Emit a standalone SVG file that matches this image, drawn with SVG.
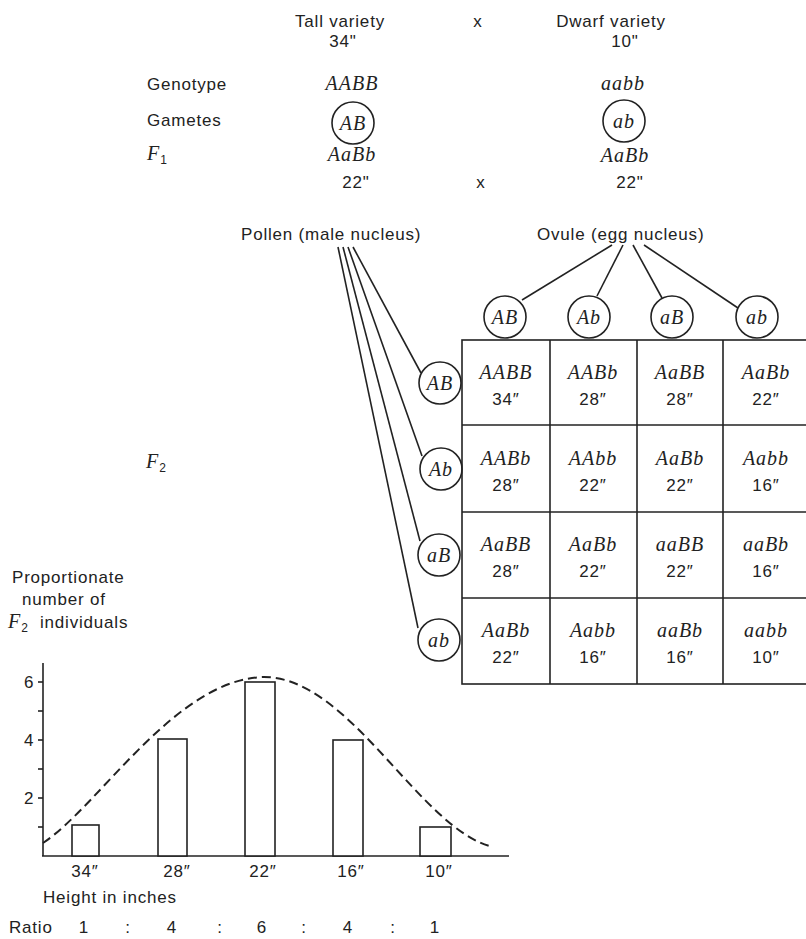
<svg xmlns="http://www.w3.org/2000/svg" width="806" height="939" viewBox="0 0 806 939">
<style>
  .s{font-family:"Liberation Sans",Arial,sans-serif;font-size:17px;letter-spacing:0.8px;fill:#222}
  .m{text-anchor:middle}
  .i{font-family:"Liberation Serif","Times New Roman",serif;font-style:italic;font-size:20px;fill:#222;letter-spacing:1px}
  .sub{font-family:"Liberation Sans",Arial,sans-serif;font-style:normal;font-size:12px;letter-spacing:0}
  .c{fill:#fff;stroke:#222;stroke-width:1.6}
  .ln{stroke:#222;stroke-width:1.6;fill:none}
  .bar{fill:#fff;stroke:#222;stroke-width:1.6}
</style>
<rect width="806" height="939" fill="#fff"/>

<g id="parents">
  <text class="s m" x="340" y="27">Tall variety</text>
  <text class="s m" x="343" y="47">34"</text>
  <text class="s m" x="478" y="27">x</text>
  <text class="s m" x="611" y="27">Dwarf variety</text>
  <text class="s m" x="625" y="47">10"</text>
</g>

<g id="row-labels">
  <text class="s" x="147" y="90">Genotype</text>
  <text class="s" x="147" y="126">Gametes</text>
  <text class="i" x="147" y="160">F<tspan class="sub" dy="4">1</tspan></text>
  <text class="i" x="146" y="468">F<tspan class="sub" dy="4">2</tspan></text>
</g>

<g id="tall-genotype">
  <text class="i m" x="352" y="90">AABB</text>
</g>
<g id="dwarf-genotype">
  <text class="i m" x="623" y="90">aabb</text>
</g>
<g id="gamete-AB">
  <circle class="c" cx="353" cy="123" r="21"/>
  <text class="i m" x="353" y="130">AB</text>
</g>
<g id="gamete-ab">
  <circle class="c" cx="624" cy="121" r="21"/>
  <text class="i m" x="624" y="128">ab</text>
</g>
<g id="f1">
  <text class="i m" x="352" y="161">AaBb</text>
  <text class="i m" x="625" y="162">AaBb</text>
  <text class="s m" x="356" y="188">22"</text>
  <text class="s m" x="481" y="188">x</text>
  <text class="s m" x="630" y="188">22"</text>
</g>

<g id="source-labels">
  <text class="s" x="241" y="240">Pollen (male nucleus)</text>
  <text class="s" x="537" y="240">Ovule (egg nucleus)</text>
</g>

<g id="connectors">
  <line class="ln" x1="612" y1="245" x2="522" y2="300"/>
  <line class="ln" x1="623" y1="245" x2="597" y2="296"/>
  <line class="ln" x1="633" y1="245" x2="662" y2="298"/>
  <line class="ln" x1="644" y1="245" x2="738" y2="308"/>
  <line class="ln" x1="353" y1="247" x2="421" y2="373"/>
  <line class="ln" x1="348" y1="247" x2="422" y2="456"/>
  <line class="ln" x1="343" y1="247" x2="420" y2="541"/>
  <line class="ln" x1="338" y1="247" x2="418" y2="628"/>
</g>

<g id="ovule-gametes">
  <circle class="c" cx="505" cy="317" r="21"/><text class="i m" x="505" y="324">AB</text>
  <circle class="c" cx="589" cy="317" r="21"/><text class="i m" x="589" y="324">Ab</text>
  <circle class="c" cx="672" cy="317" r="21"/><text class="i m" x="672" y="324">aB</text>
  <circle class="c" cx="757" cy="317" r="21"/><text class="i m" x="757" y="324">ab</text>
</g>

<g id="pollen-gametes">
  <circle class="c" cx="440" cy="383" r="21"/><text class="i m" x="440" y="390">AB</text>
  <circle class="c" cx="441" cy="469" r="21"/><text class="i m" x="441" y="476">Ab</text>
  <circle class="c" cx="439" cy="555" r="21"/><text class="i m" x="439" y="562">aB</text>
  <circle class="c" cx="439" cy="640" r="21"/><text class="i m" x="439" y="647">ab</text>
</g>

<g id="punnett-grid">
  <rect x="462" y="340" width="360" height="344" fill="none" stroke="#222" stroke-width="1.6"/>
  <line class="ln" x1="462" y1="425" x2="806" y2="425"/>
  <line class="ln" x1="462" y1="512" x2="806" y2="512"/>
  <line class="ln" x1="462" y1="598" x2="806" y2="598"/>
  <line class="ln" x1="550" y1="340" x2="550" y2="684"/>
  <line class="ln" x1="637" y1="340" x2="637" y2="684"/>
  <line class="ln" x1="723" y1="340" x2="723" y2="684"/>
</g>

<g id="cells">
  <text class="i m" x="506" y="379">AABB</text><text class="s m" x="506" y="405">34″</text>
  <text class="i m" x="593" y="379">AABb</text><text class="s m" x="593" y="405">28″</text>
  <text class="i m" x="680" y="379">AaBB</text><text class="s m" x="680" y="405">28″</text>
  <text class="i m" x="766" y="379">AaBb</text><text class="s m" x="766" y="405">22″</text>

  <text class="i m" x="506" y="465">AABb</text><text class="s m" x="506" y="491">28″</text>
  <text class="i m" x="593" y="465">AAbb</text><text class="s m" x="593" y="491">22″</text>
  <text class="i m" x="680" y="465">AaBb</text><text class="s m" x="680" y="491">22″</text>
  <text class="i m" x="766" y="465">Aabb</text><text class="s m" x="766" y="491">16″</text>

  <text class="i m" x="506" y="551">AaBB</text><text class="s m" x="506" y="577">28″</text>
  <text class="i m" x="593" y="551">AaBb</text><text class="s m" x="593" y="577">22″</text>
  <text class="i m" x="680" y="551">aaBB</text><text class="s m" x="680" y="577">22″</text>
  <text class="i m" x="766" y="551">aaBb</text><text class="s m" x="766" y="577">16″</text>

  <text class="i m" x="506" y="637">AaBb</text><text class="s m" x="506" y="663">22″</text>
  <text class="i m" x="593" y="637">Aabb</text><text class="s m" x="593" y="663">16″</text>
  <text class="i m" x="680" y="637">aaBb</text><text class="s m" x="680" y="663">16″</text>
  <text class="i m" x="766" y="637">aabb</text><text class="s m" x="766" y="663">10″</text>
</g>

<g id="chart">
  <text class="s" x="12" y="583">Proportionate</text>
  <text class="s" x="22" y="605">number of</text>
  <text class="i" x="8" y="628">F<tspan class="sub" dy="4">2</tspan></text>
  <text class="s" x="40" y="628">individuals</text>

  <line class="ln" x1="43" y1="663" x2="43" y2="856"/>
  <line class="ln" x1="42" y1="856" x2="509" y2="856"/>
  <g class="ln">
    <line x1="38" y1="682" x2="43" y2="682"/>
    <line x1="38" y1="711" x2="43" y2="711"/>
    <line x1="38" y1="740" x2="43" y2="740"/>
    <line x1="38" y1="769" x2="43" y2="769"/>
    <line x1="38" y1="798" x2="43" y2="798"/>
    <line x1="38" y1="827" x2="43" y2="827"/>
  </g>
  <text class="s" x="24" y="688">6</text>
  <text class="s" x="24" y="746">4</text>
  <text class="s" x="24" y="804">2</text>

  <rect class="bar" x="72" y="825" width="27" height="31"/>
  <rect class="bar" x="158" y="739" width="29" height="117"/>
  <rect class="bar" x="245" y="682" width="30" height="174"/>
  <rect class="bar" x="333" y="740" width="30" height="116"/>
  <rect class="bar" x="420" y="827" width="31" height="29"/>

  <path d="M43,843 C100,805 175,680 263,677 C350,676 420,830 493,847" fill="none" stroke="#222" stroke-width="2" stroke-dasharray="9 5"/>

  <text class="s m" x="85" y="877">34″</text>
  <text class="s m" x="177" y="877">28″</text>
  <text class="s m" x="263" y="877">22″</text>
  <text class="s m" x="351" y="877">16″</text>
  <text class="s m" x="439" y="877">10″</text>
  <text class="s" x="43" y="903">Height in inches</text>

  <text class="s" x="9" y="933">Ratio</text>
  <text class="s m" x="84" y="933">1</text>
  <text class="s m" x="128" y="933">:</text>
  <text class="s m" x="172" y="933">4</text>
  <text class="s m" x="220" y="933">:</text>
  <text class="s m" x="262" y="933">6</text>
  <text class="s m" x="304" y="933">:</text>
  <text class="s m" x="348" y="933">4</text>
  <text class="s m" x="393" y="933">:</text>
  <text class="s m" x="435" y="933">1</text>
</g>
</svg>
